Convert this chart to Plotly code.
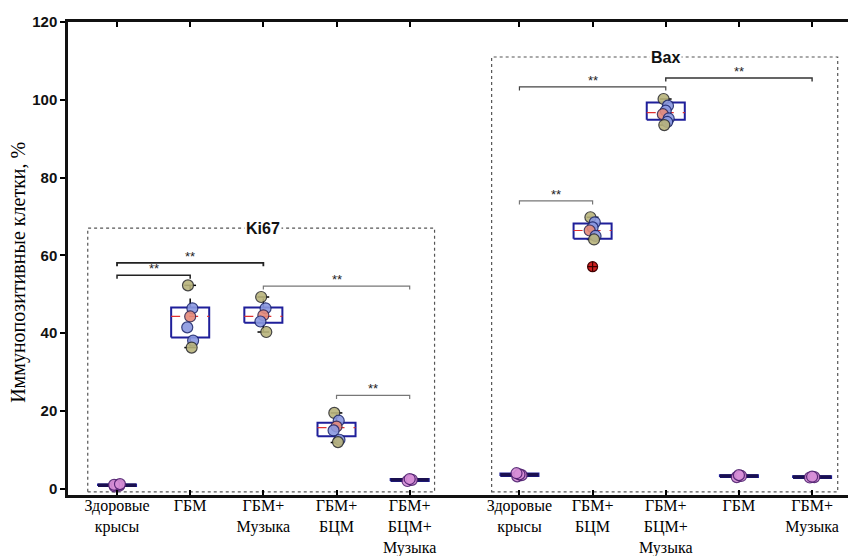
import plotly.graph_objects as go

# ---------------- data ----------------
ki67_labels = ["Здоровые<br>крысы", "ГБМ", "ГБМ+<br>Музыка", "ГБМ+<br>БЦМ", "ГБМ+<br>БЦМ+<br>Музыка"]
bax_labels = ["Здоровые<br>крысы", "ГБМ+<br>БЦМ", "ГБМ+<br>БЦМ+<br>Музыка", "ГБМ", "ГБМ+<br>Музыка"]

ki67_q1 = [0.7, 38.9, 42.7, 13.5, 2.0]
ki67_med = [0.9, 44.3, 44.3, 15.7, 2.3]
ki67_q3 = [1.1, 46.6, 46.6, 17.0, 2.5]
ki67_lo = [0.6, 36.3, 40.3, 11.9, 1.9]
ki67_hi = [1.2, 52.3, 49.3, 19.5, 2.6]
ki67_points = [
    [0.6, 0.8, 0.9, 1.0, 1.2],
    [52.3, 46.4, 44.3, 41.5, 38.1, 36.3],
    [49.3, 46.4, 44.6, 43.0, 40.3],
    [19.5, 17.5, 16.0, 15.0, 12.6, 12.0],
    [2.0, 2.3, 2.5],
]

bax_q1 = [3.3, 64.3, 94.9, 3.0, 2.8]
bax_med = [3.6, 66.4, 96.7, 3.3, 3.0]
bax_q3 = [3.9, 68.2, 99.3, 3.5, 3.2]
bax_lo = [3.1, 64.1, 93.5, 2.9, 2.7]
bax_hi = [4.1, 69.8, 100.2, 3.7, 3.3]
bax_points = [
    [3.2, 3.5, 3.7, 4.0],
    [69.8, 68.5, 67.2, 66.4, 65.0, 64.1],
    [100.2, 98.5, 97.2, 96.3, 95.2, 94.3, 93.5],
    [3.0, 3.3, 3.5],
    [2.9, 3.0, 3.1],
]
bax_outlier_group = [1]
bax_outlier_value = [57.1]

# significance brackets: (group index a, group index b, height)
ki67_sig = [(0, 1, 54.9), (0, 2, 58.1), (2, 4, 52.1), (3, 4, 24.0)]
bax_sig = [(0, 1, 74.0), (0, 2, 103.3), (2, 4, 105.6)]
sig_text = "**"

# ---------------- layout constants ----------------
ki67_x = [1, 2, 3, 4, 5]
bax_x = [6.5, 7.5, 8.5, 9.5, 10.5]
HALF = 0.26
CAP = 0.08
JIT = [-0.03, 0.03, 0.0, -0.04, 0.04, 0.02, -0.02]
SERIF = "Liberation Serif"
SANS = "Liberation Sans"

fig = go.Figure()

all_x = ki67_x + bax_x
all_q1 = ki67_q1 + bax_q1
all_med = ki67_med + bax_med
all_q3 = ki67_q3 + bax_q3
all_lo = ki67_lo + bax_lo
all_hi = ki67_hi + bax_hi
all_pts = ki67_points + bax_points

wx, wy, cx, cy, bx, by, mx, my, lmx, lmy = [], [], [], [], [], [], [], [], [], []
for x, q1, md, q3, lo, hi in zip(all_x, all_q1, all_med, all_q3, all_lo, all_hi):
    wx += [x, x, None, x, x, None]
    wy += [q3, hi, None, q1, lo, None]
    cx += [x - CAP, x + CAP, None, x - CAP, x + CAP, None]
    cy += [hi, hi, None, lo, lo, None]
    bx += [x - HALF, x + HALF, x + HALF, x - HALF, x - HALF, None]
    by += [q1, q1, q3, q3, q1, None]
    if q3 - q1 < 1.0:
        lmx += [x - HALF, x + HALF, None]
        lmy += [md, md, None]
    else:
        mx += [x - HALF, x + HALF, None]
        my += [md, md, None]

fig.add_trace(go.Scatter(x=wx, y=wy, mode="lines", line=dict(color="black", width=1.5, dash="dash"),
                         hoverinfo="skip", showlegend=False))
fig.add_trace(go.Scatter(x=cx, y=cy, mode="lines", line=dict(color="black", width=1.5),
                         hoverinfo="skip", showlegend=False))
fig.add_trace(go.Scatter(x=bx, y=by, mode="lines", line=dict(color="#1f1f9a", width=2),
                         hoverinfo="skip", showlegend=False))
fig.add_trace(go.Scatter(x=lmx, y=lmy, mode="lines", line=dict(color="#1a1050", width=3.5),
                         hoverinfo="skip", showlegend=False))
fig.add_trace(go.Scatter(x=mx, y=my, mode="lines", line=dict(color="#e03030", width=1.2, dash="dash"),
                         hoverinfo="skip", showlegend=False))

# points
px, py, pc, pl = [], [], [], []
for x, md, pts, q1, q3 in zip(all_x, all_med, all_pts, all_q1, all_q3):
    lo_i = pts.index(min(pts))
    hi_i = pts.index(max(pts))
    med_i = min(range(len(pts)), key=lambda i: abs(pts[i] - md))
    flat = (q3 - q1) < 1.0
    for i, v in enumerate(pts):
        px.append(x + JIT[i % len(JIT)])
        py.append(v)
        if flat:
            pc.append("#d890d8")
            pl.append("#502070")
        elif i == med_i:
            pc.append("#e58a7a")
            pl.append("#3a2a50")
        elif i in (lo_i, hi_i):
            pc.append("#b9b47c")
            pl.append("#303030")
        else:
            pc.append("#8a98e0")
            pl.append("#1f2a70")
fig.add_trace(go.Scatter(x=px, y=py, mode="markers",
                         marker=dict(size=11, color=pc, line=dict(color=pl, width=1.2), opacity=0.9),
                         hoverinfo="skip", showlegend=False))

# outlier
fig.add_trace(go.Scatter(x=[bax_x[g] for g in bax_outlier_group], y=bax_outlier_value, mode="markers",
                         marker=dict(size=10, color="#d02020", symbol="circle-cross",
                                     line=dict(color="#400000", width=1.2)),
                         hoverinfo="skip", showlegend=False))

# significance brackets
def add_brackets(xs, sigs, colors, widths):
    for (a, b, h), col, w in zip(sigs, colors, widths):
        x1, x2 = xs[a], xs[b]
        fig.add_trace(go.Scatter(x=[x1, x1, x2, x2], y=[h - 0.9, h, h, h - 0.9], mode="lines",
                                 line=dict(color=col, width=w), hoverinfo="skip", showlegend=False))
        fig.add_annotation(x=(x1 + x2) / 2, y=h, text=sig_text, showarrow=False, yanchor="bottom",
                           yshift=-3, font=dict(family=SANS, size=13, color="#222"))

add_brackets(ki67_x, ki67_sig, ["#222", "#222", "#777", "#777"], [1.5, 1.8, 1.2, 1.2])
add_brackets(bax_x, bax_sig, ["#777", "#444", "#333"], [1.2, 1.2, 1.4])

# dotted group frames
frame_style = dict(color="#555", width=1.2, dash="dot")
fig.add_shape(type="rect", x0=0.60, x1=5.34, y0=-0.8, y1=67.0, line=frame_style, layer="below")
fig.add_shape(type="rect", x0=6.12, x1=10.85, y0=-0.8, y1=111.0, line=frame_style, layer="below")
fig.add_annotation(x=3.0, y=67.0, text="Ki67", showarrow=False, bgcolor="white",
                   font=dict(family=SANS, size=16, color="#111", weight="bold"))
fig.add_annotation(x=8.5, y=111.0, text="Bax", showarrow=False, bgcolor="white",
                   font=dict(family=SANS, size=16, color="#111", weight="bold"))

# y-axis title
fig.add_annotation(xref="paper", yref="paper", x=-0.062, y=0.47, xanchor="center", yanchor="middle",
                   text="Иммунопозитивные клетки, %", textangle=-90, showarrow=False,
                   font=dict(family=SERIF, size=20, color="black"))

# page body has an 8px margin: figure is shrunk so the plot lands where the reference has it
fig.update_layout(
    width=848, height=548,
    margin=dict(l=60, r=0, t=14, b=61),
    plot_bgcolor="white", paper_bgcolor="white",
    xaxis=dict(range=[0.33, 11.1], tickvals=all_x, ticktext=ki67_labels + bax_labels,
               ticks="inside", ticklen=5, tickwidth=1.5, tickcolor="black",
               showline=True, linecolor="#111", linewidth=2.5, mirror="ticks",
               showgrid=False, zeroline=False, automargin=False, ticklabelstandoff=-6,
               tickfont=dict(family=SERIF, size=16, color="black")),
    yaxis=dict(range=[-1.6, 120], tickvals=[0, 20, 40, 60, 80, 100, 120],
               ticks="outside", ticklen=5, tickwidth=1.5, tickcolor="black",
               showline=True, linecolor="#111", linewidth=2.5,
               showgrid=False, zeroline=False, automargin=False,
               tickfont=dict(family=SANS, size=15, color="#111", weight="bold")),
)

fig.write_html("out.html")
